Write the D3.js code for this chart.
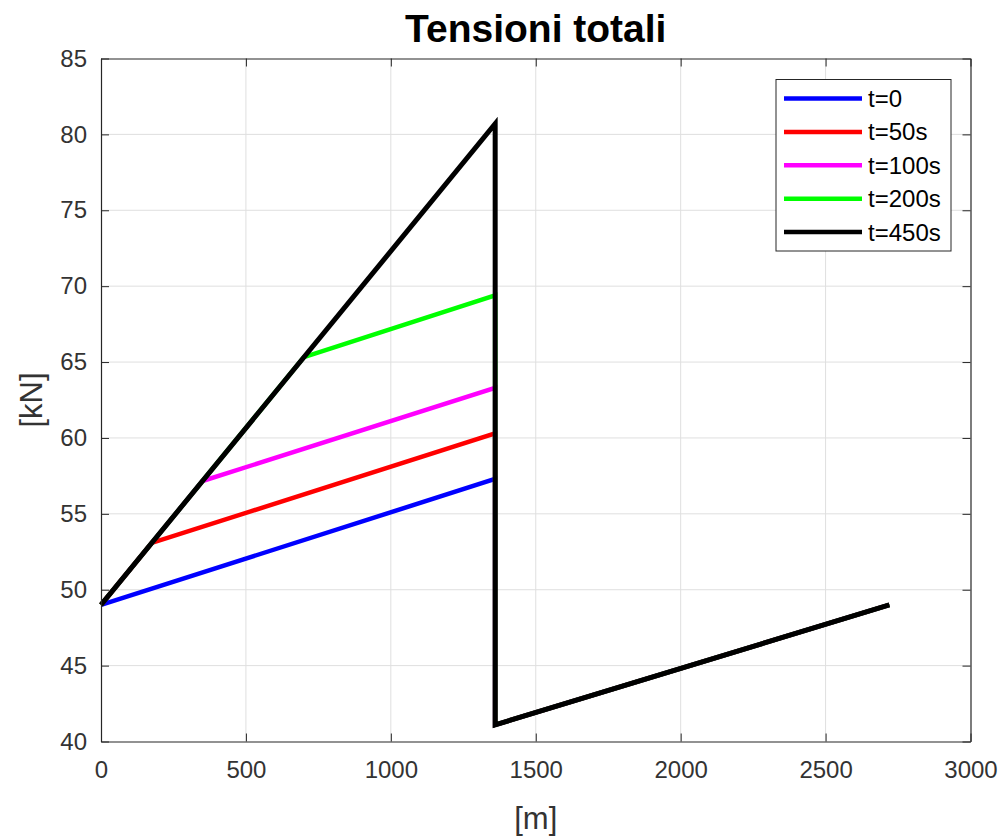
<!DOCTYPE html>
<html>
<head>
<meta charset="utf-8">
<script src="https://cdn.jsdelivr.net/npm/d3@7"></script>
<style>
  html, body { margin: 0; padding: 0; background: #fff; }
  svg { display: block; font-family: "Liberation Sans", Arial, Helvetica, sans-serif; }
</style>
</head>
<body>
<svg id="chart" width="1007" height="839"></svg>
<script>
// Total tension along the line [m] -> [kN] at several instants
const seriesNames = ["t=0", "t=50s", "t=100s", "t=200s", "t=450s"];
const seriesColors = ["#0000ff", "#ff0000", "#ff00ff", "#00ff00", "#000000"];

// Each profile: positions [m] and tensions [kN]
const xT0   = [0, 1360, 1360, 2720];
const yT0   = [49.0, 57.3, 41.1, 49.0];
const xT50  = [0, 175, 1360, 1360, 2720];
const yT50  = [49.0, 53.08, 60.3, 41.1, 49.0];
const xT100 = [0, 350, 1360, 1360, 2720];
const yT100 = [49.0, 57.16, 63.3, 41.1, 49.0];
const xT200 = [0, 700, 1360, 1360, 2720];
const yT200 = [49.0, 65.32, 69.4, 41.1, 49.0];
const xT450 = [0, 1360, 1360, 2720];
const yT450 = [49.0, 80.7, 41.1, 49.0];

const xTicks = [0, 500, 1000, 1500, 2000, 2500, 3000];
const yTicks = [40, 45, 50, 55, 60, 65, 70, 75, 80, 85];

const profiles = [
  [xT0, yT0], [xT50, yT50], [xT100, yT100], [xT200, yT200], [xT450, yT450]
].map(([xs, ys], i) => ({
  name: seriesNames[i],
  color: seriesColors[i],
  points: xs.map((x, j) => ({ x, y: ys[j] }))
}));

const svg = d3.select("#chart");
const margin = { left: 101, right: 1007 - 970.5, top: 58.5, bottom: 839 - 741.5 };
const W = 1007 - margin.left - margin.right;
const H = 839 - margin.top - margin.bottom;

const x = d3.scaleLinear().domain([0, 3000]).range([0, W]);
const y = d3.scaleLinear().domain([40, 85]).range([H, 0]);

const g = svg.append("g").attr("transform", `translate(${margin.left},${margin.top})`);

// grid
g.append("g").selectAll("line").data(xTicks.slice(1, -1)).join("line")
  .attr("x1", d => x(d)).attr("x2", d => x(d)).attr("y1", 0).attr("y2", H)
  .attr("stroke", "#dfdfdf").attr("stroke-width", 1);
g.append("g").selectAll("line").data(yTicks.slice(1, -1)).join("line")
  .attr("y1", d => y(d)).attr("y2", d => y(d)).attr("x1", 0).attr("x2", W)
  .attr("stroke", "#dfdfdf").attr("stroke-width", 1);

// data lines
const line = d3.line().x(d => x(d.x)).y(d => y(d.y));
g.append("g").selectAll("path").data(profiles).join("path")
  .attr("d", d => line(d.points))
  .attr("fill", "none")
  .attr("stroke", d => d.color)
  .attr("stroke-width", d => d.name === "t=450s" ? 5 : 4.5)
  .attr("stroke-linejoin", "miter");

// axes with inward ticks on all four sides
const tickLen = 8;
const axisColor = "#262626";
const fmt = d3.format("d");
const bottomAxis = d3.axisBottom(x).tickValues(xTicks).tickFormat(fmt)
  .tickSizeInner(-tickLen).tickSizeOuter(0).tickPadding(19);
const leftAxis = d3.axisLeft(y).tickValues(yTicks).tickFormat(fmt)
  .tickSizeInner(-tickLen).tickSizeOuter(0).tickPadding(14);

g.append("g").attr("transform", `translate(0,${H})`).call(bottomAxis);
g.append("g").call(leftAxis);
g.append("g").call(d3.axisTop(x).tickValues(xTicks).tickSizeInner(-tickLen).tickSizeOuter(0).tickFormat(""));
g.append("g").attr("transform", `translate(${W},0)`)
  .call(d3.axisRight(y).tickValues(yTicks).tickSizeInner(-tickLen).tickSizeOuter(0).tickFormat(""));

g.selectAll(".domain").attr("stroke", axisColor).attr("stroke-width", 1.2);
g.selectAll(".tick line").attr("stroke", axisColor).attr("stroke-width", 1);
g.selectAll(".tick text").attr("fill", "#333333").attr("font-size", 24)
  .attr("font-family", "'Liberation Sans', Arial, sans-serif");

// titles
svg.append("text")
  .attr("x", margin.left + W / 2).attr("y", 42)
  .attr("text-anchor", "middle")
  .attr("font-size", 39).attr("font-weight", "bold").attr("fill", "#000")
  .text("Tensioni totali");

svg.append("text")
  .attr("x", margin.left + W / 2).attr("y", 829)
  .attr("text-anchor", "middle")
  .attr("font-size", 31).attr("fill", "#333333")
  .text("[m]");

svg.append("text")
  .attr("transform", `translate(42,${margin.top + H / 2}) rotate(-90)`)
  .attr("text-anchor", "middle")
  .attr("font-size", 31).attr("fill", "#333333")
  .text("[kN]");

// legend
const lg = svg.append("g").attr("transform", "translate(776,79.5)");
lg.append("rect").attr("width", 175).attr("height", 171.5)
  .attr("fill", "#fff").attr("stroke", "#262626").attr("stroke-width", 1);
const rows = lg.selectAll("g.row").data(profiles).join("g")
  .attr("class", "row")
  .attr("transform", (d, i) => `translate(0,${19 + i * 33.4})`);
rows.append("line").attr("x1", 8).attr("x2", 86).attr("y1", 0).attr("y2", 0)
  .attr("stroke", d => d.color).attr("stroke-width", 4.5);
rows.append("text").attr("x", 92).attr("y", 8.5)
  .attr("font-size", 24).attr("fill", "#000")
  .text(d => d.name);
</script>
</body>
</html>
